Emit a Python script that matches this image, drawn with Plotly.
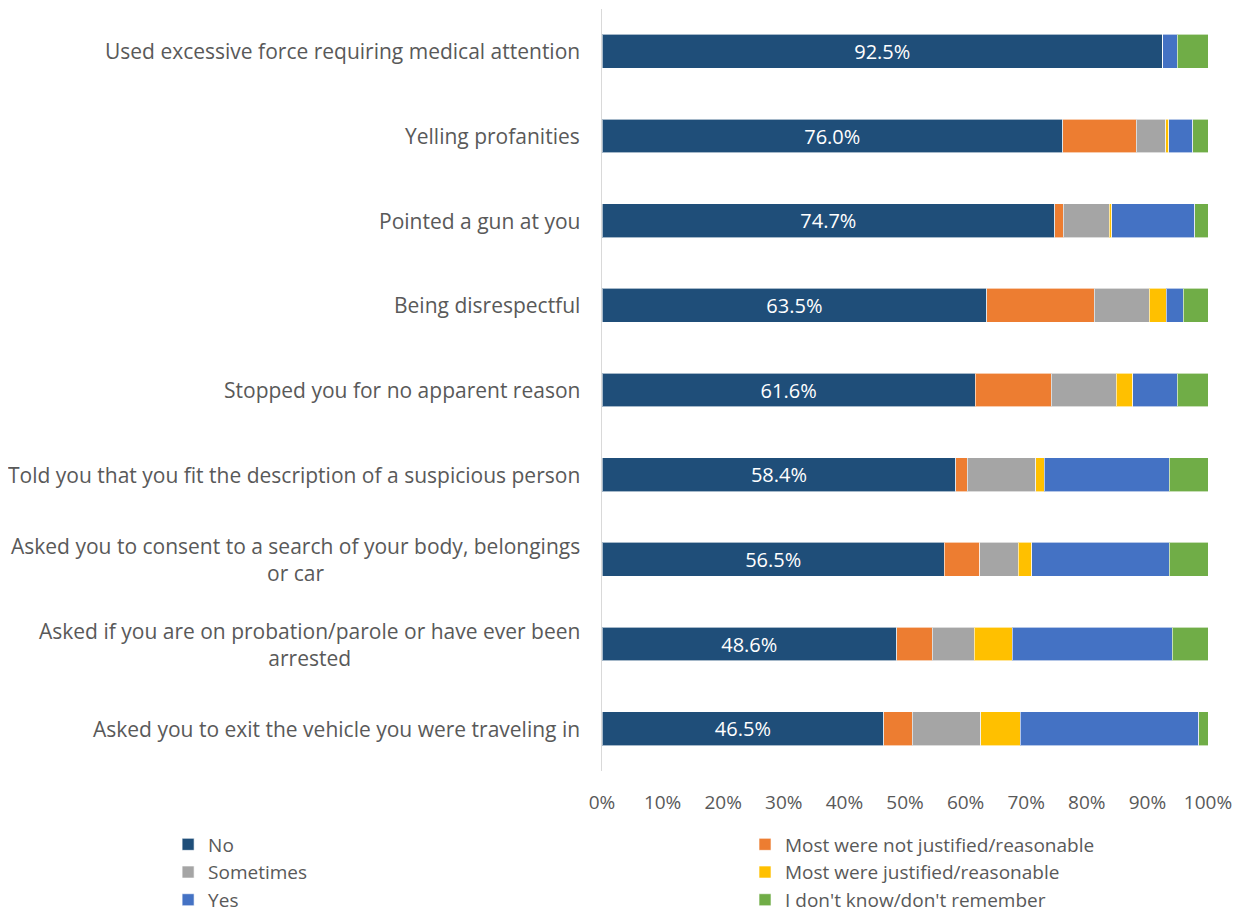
import plotly.graph_objects as go

categories = [
    "Used excessive force requiring medical attention",
    "Yelling profanities",
    "Pointed a gun at you",
    "Being disrespectful",
    "Stopped you for no apparent reason",
    "Told you that you fit the description of a suspicious person",
    "Asked you to consent to a search of your body, belongings<br>or car",
    "Asked if you are on probation/parole or have ever been<br>arrested",
    "Asked you to exit the vehicle you were traveling in",
]

no = [92.5, 76.0, 74.7, 63.5, 61.6, 58.4, 56.5, 48.6, 46.5]
not_justified = [0.0, 12.2, 1.4, 17.7, 12.5, 1.9, 5.8, 5.9, 4.7]
sometimes = [0.0, 4.8, 7.6, 9.1, 10.8, 11.3, 6.4, 6.9, 11.3]
justified = [0.0, 0.5, 0.4, 2.8, 2.7, 1.4, 2.2, 6.3, 6.5]
yes = [2.4, 4.0, 13.7, 2.8, 7.3, 20.6, 22.7, 26.4, 29.5]
dont_know = [5.1, 2.8, 2.2, 4.1, 5.1, 6.4, 6.4, 5.9, 1.5]

# name, values, colour, which legend column
series = [
    ("No", no, "#1F4E79", "legend"),
    ("Most were not justified/reasonable", not_justified, "#ED7D31", "legend2"),
    ("Sometimes", sometimes, "#A5A5A5", "legend"),
    ("Most were justified/reasonable", justified, "#FFC000", "legend2"),
    ("Yes", yes, "#4472C4", "legend"),
    ("I don't know/don't remember", dont_know, "#70AD47", "legend2"),
]

FONT = "Open Sans"
GREY = "#595959"

fig = go.Figure()
for name, vals, color, leg in series:
    fig.add_trace(go.Bar(
        y=categories,
        x=[v / 100 for v in vals],
        name=name,
        legend=leg,
        orientation="h",
        marker=dict(color=color, line=dict(color="rgba(255,255,255,0.6)", width=1)),
        text=["%.1f%%" % v for v in vals] if name == "No" else None,
        textposition="inside" if name == "No" else "none",
        insidetextanchor="middle",
        textfont=dict(family=FONT, size=20, color="white"),
    ))

# category labels as annotations so wrapped lines are centred
for c in categories:
    fig.add_annotation(
        x=0, xref="paper", y=c, yref="y",
        text=c, showarrow=False, xanchor="right", align="center",
        xshift=-20, font=dict(family=FONT, size=21, color=GREY),
    )

legend_style = dict(
    xref="paper", yref="container", yanchor="top", xanchor="left",
    orientation="v", traceorder="normal",
    font=dict(family=FONT, size=19, color=GREY),
    itemclick=False, itemdoubleclick=False, bgcolor="rgba(0,0,0,0)",
)

# page body adds an 8px offset, so the figure is a little smaller than the window
fig.update_layout(
    width=1233, height=905,
    barmode="stack", bargap=0.6,
    plot_bgcolor="white", paper_bgcolor="white",
    margin=dict(l=594, r=33, t=1, b=142),
    font=dict(family=FONT, size=20, color=GREY),
    legend=dict(x=-0.716, y=0.0967, **legend_style),
    legend2=dict(x=0.236, y=0.0967, **legend_style),
)
fig.update_xaxes(
    range=[0, 1], dtick=0.1, tickformat=".0%",
    showgrid=False, zeroline=False, showline=False, automargin=False,
    ticklabelstandoff=18,
    tickfont=dict(family=FONT, size=19, color=GREY),
)
fig.update_yaxes(
    autorange="reversed", showticklabels=False, automargin=False,
    showgrid=False, zeroline=False,
    showline=True, linecolor="#D9D9D9", linewidth=1,
)

fig.write_html("out.html")
